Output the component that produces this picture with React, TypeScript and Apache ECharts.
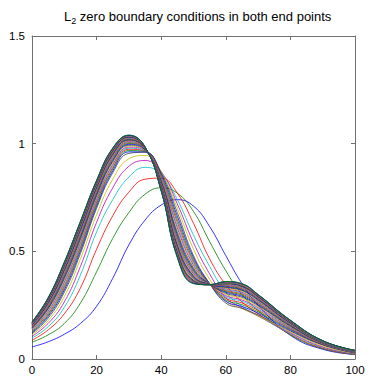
import React, { useEffect, useRef } from "react";
import * as echarts from "echarts";

const xs = [0, 5, 10, 15, 20, 25, 30, 35, 40, 45, 50, 55, 60, 65, 70, 80, 90, 100];

const c01 = [0.056, 0.080, 0.115, 0.165, 0.245, 0.375, 0.530, 0.645, 0.715, 0.740, 0.710, 0.615, 0.480, 0.350, 0.250, 0.110, 0.045, 0.021];
const c02 = [0.078, 0.112, 0.165, 0.260, 0.405, 0.560, 0.680, 0.765, 0.795, 0.770, 0.685, 0.545, 0.410, 0.300, 0.225, 0.112, 0.048, 0.021];
const c03 = [0.087, 0.135, 0.210, 0.330, 0.510, 0.665, 0.775, 0.835, 0.840, 0.770, 0.630, 0.465, 0.345, 0.265, 0.210, 0.115, 0.050, 0.022];
const c04 = [0.097, 0.150, 0.240, 0.390, 0.590, 0.740, 0.845, 0.890, 0.860, 0.740, 0.575, 0.430, 0.310, 0.245, 0.200, 0.118, 0.053, 0.023];
const c05 = [0.105, 0.165, 0.265, 0.430, 0.635, 0.795, 0.895, 0.922, 0.870, 0.720, 0.540, 0.395, 0.285, 0.238, 0.200, 0.122, 0.056, 0.024];
const c06 = [0.112, 0.178, 0.290, 0.465, 0.670, 0.835, 0.930, 0.945, 0.870, 0.700, 0.510, 0.370, 0.270, 0.235, 0.200, 0.126, 0.060, 0.026];
const c07 = [0.118, 0.190, 0.310, 0.490, 0.700, 0.865, 0.955, 0.960, 0.865, 0.680, 0.480, 0.350, 0.260, 0.235, 0.205, 0.130, 0.065, 0.028];
const c08 = [0.122, 0.198, 0.321, 0.502, 0.710, 0.874, 0.962, 0.962, 0.858, 0.663, 0.470, 0.350, 0.268, 0.244, 0.213, 0.134, 0.067, 0.029];
const c09 = [0.126, 0.204, 0.331, 0.513, 0.720, 0.883, 0.968, 0.964, 0.852, 0.648, 0.460, 0.349, 0.275, 0.252, 0.219, 0.138, 0.068, 0.030];
const c10 = [0.130, 0.211, 0.341, 0.523, 0.729, 0.890, 0.974, 0.966, 0.846, 0.634, 0.451, 0.349, 0.282, 0.260, 0.226, 0.141, 0.069, 0.031];
const c11 = [0.133, 0.217, 0.350, 0.533, 0.737, 0.898, 0.979, 0.967, 0.841, 0.620, 0.443, 0.349, 0.288, 0.268, 0.232, 0.144, 0.071, 0.031];
const c12 = [0.137, 0.223, 0.358, 0.542, 0.745, 0.904, 0.984, 0.969, 0.836, 0.608, 0.435, 0.348, 0.294, 0.274, 0.238, 0.147, 0.072, 0.032];
const c13 = [0.140, 0.228, 0.366, 0.550, 0.752, 0.911, 0.989, 0.970, 0.831, 0.596, 0.428, 0.348, 0.300, 0.281, 0.243, 0.150, 0.073, 0.033];
const c14 = [0.142, 0.233, 0.373, 0.557, 0.758, 0.917, 0.993, 0.971, 0.827, 0.586, 0.422, 0.348, 0.305, 0.287, 0.248, 0.152, 0.074, 0.033];
const c15 = [0.145, 0.237, 0.380, 0.565, 0.765, 0.922, 0.997, 0.972, 0.823, 0.576, 0.415, 0.348, 0.310, 0.292, 0.252, 0.155, 0.075, 0.034];
const c16 = [0.147, 0.241, 0.386, 0.571, 0.770, 0.927, 1.001, 0.974, 0.819, 0.566, 0.410, 0.347, 0.314, 0.297, 0.256, 0.157, 0.076, 0.035];
const c17 = [0.149, 0.245, 0.392, 0.577, 0.776, 0.932, 1.005, 0.975, 0.816, 0.558, 0.404, 0.347, 0.318, 0.302, 0.260, 0.159, 0.077, 0.035];
const c18 = [0.152, 0.249, 0.397, 0.583, 0.781, 0.936, 1.008, 0.976, 0.812, 0.550, 0.399, 0.347, 0.322, 0.306, 0.264, 0.161, 0.077, 0.035];
const c19 = [0.153, 0.252, 0.402, 0.588, 0.785, 0.940, 1.011, 0.976, 0.809, 0.542, 0.395, 0.347, 0.326, 0.310, 0.267, 0.163, 0.078, 0.036];
const c20 = [0.155, 0.255, 0.407, 0.593, 0.790, 0.944, 1.014, 0.977, 0.806, 0.535, 0.390, 0.347, 0.329, 0.314, 0.270, 0.164, 0.079, 0.036];
const c21 = [0.157, 0.258, 0.411, 0.598, 0.794, 0.948, 1.016, 0.978, 0.804, 0.529, 0.386, 0.346, 0.332, 0.318, 0.273, 0.166, 0.079, 0.037];
const c22 = [0.158, 0.261, 0.415, 0.602, 0.797, 0.951, 1.019, 0.979, 0.801, 0.523, 0.383, 0.346, 0.335, 0.321, 0.276, 0.167, 0.080, 0.037];
const c23 = [0.160, 0.264, 0.419, 0.606, 0.801, 0.954, 1.021, 0.979, 0.799, 0.517, 0.379, 0.346, 0.338, 0.324, 0.279, 0.169, 0.081, 0.037];
const c24 = [0.161, 0.266, 0.422, 0.610, 0.804, 0.957, 1.023, 0.980, 0.797, 0.512, 0.376, 0.346, 0.340, 0.327, 0.281, 0.170, 0.081, 0.038];
const c25 = [0.162, 0.268, 0.425, 0.613, 0.807, 0.960, 1.025, 0.981, 0.795, 0.507, 0.373, 0.346, 0.342, 0.330, 0.283, 0.171, 0.081, 0.038];
const c26 = [0.164, 0.270, 0.428, 0.617, 0.810, 0.962, 1.027, 0.981, 0.793, 0.503, 0.370, 0.346, 0.344, 0.332, 0.285, 0.172, 0.082, 0.038];
const c27 = [0.165, 0.272, 0.431, 0.620, 0.812, 0.964, 1.028, 0.982, 0.792, 0.499, 0.368, 0.346, 0.346, 0.334, 0.287, 0.173, 0.082, 0.038];
const c28 = [0.166, 0.274, 0.434, 0.622, 0.815, 0.966, 1.030, 0.982, 0.790, 0.495, 0.365, 0.346, 0.348, 0.336, 0.289, 0.174, 0.083, 0.039];
const c29 = [0.167, 0.275, 0.436, 0.625, 0.817, 0.968, 1.031, 0.983, 0.789, 0.491, 0.363, 0.346, 0.350, 0.338, 0.290, 0.175, 0.083, 0.039];
const c30 = [0.167, 0.277, 0.438, 0.627, 0.819, 0.970, 1.033, 0.983, 0.787, 0.488, 0.361, 0.345, 0.352, 0.340, 0.292, 0.176, 0.083, 0.039];
const c31 = [0.168, 0.278, 0.440, 0.630, 0.821, 0.972, 1.034, 0.983, 0.786, 0.485, 0.359, 0.345, 0.353, 0.342, 0.293, 0.177, 0.084, 0.039];
const c32 = [0.169, 0.280, 0.442, 0.632, 0.823, 0.974, 1.035, 0.984, 0.785, 0.482, 0.357, 0.345, 0.354, 0.344, 0.295, 0.177, 0.084, 0.039];
const c33 = [0.170, 0.281, 0.444, 0.634, 0.824, 0.975, 1.036, 0.984, 0.784, 0.479, 0.356, 0.345, 0.356, 0.345, 0.296, 0.178, 0.084, 0.040];
const c34 = [0.170, 0.282, 0.446, 0.635, 0.826, 0.976, 1.037, 0.984, 0.783, 0.477, 0.354, 0.345, 0.357, 0.346, 0.297, 0.178, 0.084, 0.040];
const c35 = [0.171, 0.283, 0.447, 0.637, 0.827, 0.978, 1.038, 0.985, 0.782, 0.475, 0.353, 0.345, 0.358, 0.348, 0.298, 0.179, 0.085, 0.040];
const c36 = [0.171, 0.284, 0.449, 0.639, 0.829, 0.979, 1.039, 0.985, 0.781, 0.472, 0.351, 0.345, 0.359, 0.349, 0.299, 0.180, 0.085, 0.040];
const c37 = [0.172, 0.285, 0.450, 0.640, 0.830, 0.980, 1.040, 0.985, 0.780, 0.470, 0.350, 0.345, 0.360, 0.350, 0.300, 0.180, 0.085, 0.040];

const curves = [
  c01, c02, c03, c04, c05, c06, c07, c08, c09, c10,
  c11, c12, c13, c14, c15, c16, c17, c18, c19, c20,
  c21, c22, c23, c24, c25, c26, c27, c28, c29, c30,
  c31, c32, c33, c34, c35, c36, c37,
];

const colorOrder = ["#0000ff", "#008000", "#ff0000", "#00bfbf", "#bf00bf", "#bfbf00", "#404040"];

const xMin = 0, xMax = 100, xStep = 20;
const yMin = 0, yMax = 1.5, yStep = 0.5;

const FONT = "'Liberation Sans', Arial, Helvetica, sans-serif";
const AXIS_COLOR = "#707070";

export default function App() {
  const ref = useRef<HTMLDivElement>(null);

  useEffect(() => {
    if (!ref.current) return;
    const chart = echarts.init(ref.current, null, { renderer: "svg" });

    const axisCommon = {
      axisLine: { show: true, onZero: false, lineStyle: { color: AXIS_COLOR, width: 1 } },
      axisTick: { show: true, inside: true, length: 4, lineStyle: { color: AXIS_COLOR, width: 1 } },
      splitLine: { show: false },
    };

    const series = curves.map((ys, i) => ({
      type: "line",
      data: xs.map((x, j) => [x, ys[j]]),
      showSymbol: false,
      symbol: "none",
      smooth: 0.45,
      lineStyle: { width: 0.8, color: colorOrder[i % colorOrder.length] },
      itemStyle: { color: colorOrder[i % colorOrder.length] },
      z: 2,
    }));

    chart.setOption({
      animation: false,
      backgroundColor: "#ffffff",
      title: {
        text: "{n|L}{s|2}{n| zero boundary conditions in both end points}",
        left: 59,
        top: 4,
        textStyle: {
          fontWeight: "normal",
          rich: {
            n: { fontFamily: FONT, fontSize: 13, fontWeight: "normal", color: "#000", lineHeight: 15 },
            s: { fontFamily: FONT, fontSize: 9, fontWeight: "normal", color: "#000", padding: [9, 0, 0, 0], lineHeight: 15 },
          },
        },
      },
      grid: { left: 32, right: 13, top: 36, bottom: 20, containLabel: false },
      xAxis: [
        {
          type: "value",
          min: xMin,
          max: xMax,
          interval: xStep,
          position: "bottom",
          ...axisCommon,
          axisLabel: { show: true, color: "#000", fontFamily: FONT, fontSize: 11.5, margin: 5 },
        },
        {
          type: "value",
          min: xMin,
          max: xMax,
          interval: xStep,
          position: "top",
          ...axisCommon,
          axisLabel: { show: false },
        },
      ],
      yAxis: [
        {
          type: "value",
          min: yMin,
          max: yMax,
          interval: yStep,
          position: "left",
          ...axisCommon,
          axisLabel: { show: true, color: "#000", fontFamily: FONT, fontSize: 11.5, margin: 7 },
        },
        {
          type: "value",
          min: yMin,
          max: yMax,
          interval: yStep,
          position: "right",
          ...axisCommon,
          axisLabel: { show: false },
        },
      ],
      series,
    });

    return () => chart.dispose();
  }, []);

  return (
    <div
      ref={ref}
      style={{ position: "absolute", left: 0, top: 0, width: 368, height: 379, background: "#fff" }}
    />
  );
}
